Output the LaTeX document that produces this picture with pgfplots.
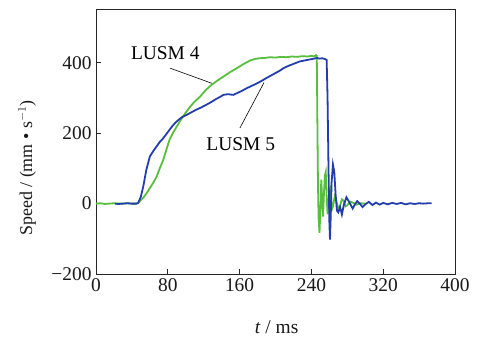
\documentclass[border=0pt]{standalone}
\usepackage{pgfplots}
\pgfplotsset{compat=1.18}
\usepackage{fontspec}
\setmainfont{Liberation Serif}
\definecolor{lgreen}{RGB}{88,190,60}
\definecolor{lblue}{RGB}{35,62,172}
\begin{document}
\begin{tikzpicture}
\path[use as bounding box] (-96bp,-63bp) rectangle (387bp,274bp);
\begin{axis}[
  scale only axis, width=359bp, height=265bp,
  xmin=0, xmax=400, ymin=-200, ymax=553,
  xtick={0,80,160,240,320,400}, ytick={-200,0,200,400},
  yticklabels={−200,0,200,400},
  tick align=inside, xtick pos=bottom, ytick pos=left,
  major tick length=5bp,
  axis line style={line width=0.8pt, black!85},
  tick style={black!85, line width=0.8pt},
  /pgf/number format/assume math mode=true,
  tick label style={font=\fontsize{19.5}{22}\selectfont, black!90},
  xticklabel style={yshift=-1bp},
  yticklabel style={xshift=-1bp},
  xlabel={\textit{t} / ms},
  ylabel={Speed / (mm • s$^{-1}$)},
  label style={font=\fontsize{19.5}{22}\selectfont, black!90},
  xlabel style={at={(axis description cs:0.503,0)}, anchor=center, yshift=-53bp},
  ylabel style={at={(axis description cs:-0.192,0.40)}, anchor=center, font=\fontsize{18}{21}\selectfont},
  clip=true,
]
\addplot[lgreen, line width=1.8pt] coordinates {
(0,0) (5,1) (10,-1) (15,0) (20,1) (25,0) (30,0) (35,1) (40,0) (45,0) (47,2)
(50,10) (53,18) (56.5,30) (60,44) (64,60) (67.6,77) (71,100) (75,125) (78,150) (82,182)
(86,202) (90,219) (93.5,234) (97,248) (101,262) (105,276) (110,290) (116,304) (122,322)
(129,338) (135,349) (142,361) (149,373) (157,385) (164,396) (172,407) (177,411) (182,413)
(188,414) (194,416) (200,415) (206,417) (212,416) (218,418) (224,417) (230,419) (236,418)
(240,420) (243,418) (245,422) (246,420)
(246.6,250) (247.3,60) (248,-40) (249,-83) (250,-20) (251,68) (252,10) (253,-37) (254,30)
(255,80) (256,90) (257,20) (258,-30) (259,-10) (260,40) (261,45) (262,10) (263,-15) (264,-8)
(266,20) (268,5) (270,-15) (272,-5) (274,12) (276,8) (278,-8) (280,-5) (283,6) (286,3)
(290,-3) (295,1) (300,0)
};
\addplot[lblue, line width=1.8pt] coordinates {
(21,0) (25,-1) (30,0) (35,1) (40,0) (45,0) (47,2)
(50,20) (52.7,49) (56,95) (60,134) (64,150) (67.6,163) (71,175) (75,186) (80,203)
(84,217) (88,229) (92,238) (96,246) (101,252) (106,259) (111,266) (117,273) (123,281)
(128,288) (133,296) (138,303) (142,309) (147,311) (153,309) (158,315) (163,321) (168,328)
(173,334) (178,340) (184,348) (190,357) (195,364) (200,371) (205,378) (209,385) (214,391)
(220,397) (227,404) (233,407) (239,410) (243,412) (246,414) (249,412) (252,413) (255,411)
(257,408) (258,300) (259,110) (260,-50) (260.7,-102) (261.5,-40) (262.5,60) (264,111)
(265.5,90) (267,25) (268.5,-20) (270,-25) (272,-10) (274,-31) (276,-5) (279,18) (282,5)
(286,-14) (288.5,-2) (291,7) (294,0) (297,-10) (300,-2) (304,5) (308,-4) (312,3) (316,-3)
(320,2) (325,-2) (330,2) (335,-1) (340,2) (345,-2) (350,1) (355,-1) (360,1) (365,0) (370,1) (374,1)
};
\draw[black, line width=0.6pt] (axis cs:82.4,385) -- (axis cs:129,342);
\draw[black, line width=0.6pt] (axis cs:160.4,215) -- (axis cs:187.2,344);
\node[font=\fontsize{19.5}{22}\selectfont, inner sep=0pt] at (axis cs:77.2,427.5) {LUSM 4};
\node[font=\fontsize{19.5}{22}\selectfont, inner sep=0pt] at (axis cs:161.3,170) {LUSM 5};
\end{axis}
\end{tikzpicture}
\end{document}
